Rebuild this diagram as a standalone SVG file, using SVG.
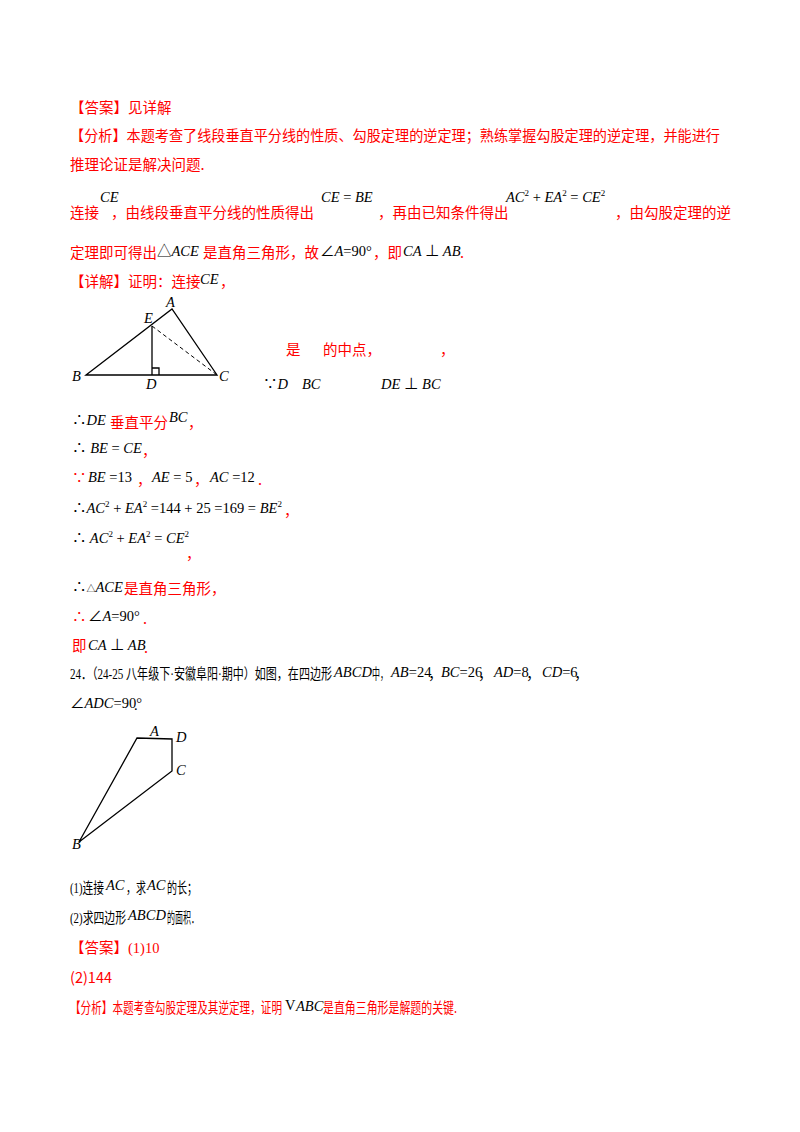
<svg xmlns="http://www.w3.org/2000/svg" width="800" height="1132" viewBox="0 0 800 1132">
<style>
text{font-family:"Liberation Serif","Noto Sans CJK SC",serif;font-size:14.5px;fill:#000}
.r{fill:#ff0000;font-family:"Noto Sans CJK SC","Liberation Serif",sans-serif}
.m{font-family:"Liberation Serif","Noto Sans CJK SC",serif;font-style:italic}
.n{font-style:normal}
.fig{stroke:#000;stroke-width:1.3;fill:none}
</style>
<rect width="800" height="1132" fill="#fff"/>
<text x="70" y="113" class="r">【答案】见详解</text>
<text x="70" y="141" class="r" textLength="650" lengthAdjust="spacingAndGlyphs">【分析】本题考查了线段垂直平分线的性质、勾股定理的逆定理；熟练掌握勾股定理的逆定理，并能进行</text>
<text x="70" y="170" class="r">推理论证是解决问题.</text>
<text x="70" y="218" class="r">连接</text>
<text x="100" y="202" class="m">CE</text>
<text x="111" y="218" class="r">，由线段垂直平分线的性质得出</text>
<text x="321" y="202" class="m">CE <tspan class="n">=</tspan> BE</text>
<text x="378" y="218" class="r">，再由已知条件得出</text>
<text x="506" y="202" class="m">AC<tspan class="n" font-size="9" dy="-6">2</tspan><tspan class="n" dy="6"> + </tspan>EA<tspan class="n" font-size="9" dy="-6">2</tspan><tspan class="n" dy="6"> = </tspan>CE<tspan class="n" font-size="9" dy="-6">2</tspan></text>
<text x="615" y="218" class="r">，由勾股定理的逆</text>
<text x="70" y="258" class="r">定理即可得出</text>
<text x="157" y="256" class="m"><tspan class="n">△</tspan>ACE</text>
<text x="203" y="258" class="r">是直角三角形，故</text>
<text x="320" y="256" class="m"><tspan class="n">∠</tspan>A<tspan class="n">=90°</tspan></text>
<text x="373" y="258" class="r">，即</text>
<text x="403" y="256" class="m">CA <tspan class="n">⊥</tspan> AB</text>
<text x="460" y="258" class="r">.</text>
<text x="70" y="287" class="r">【详解】证明：连接</text>
<text x="200" y="284" class="m">CE</text>
<text x="220" y="287" class="r">，</text>

<g id="triangle">
<path class="fig" d="M86,375 L172,309 L217,375 Z M152,326 L152,375 M152,368 L159,368 L159,375"/>
<path d="M152,326 L217,375" stroke="#000" stroke-width="1" stroke-dasharray="4,3" fill="none"/>
<text x="166" y="307" class="m">A</text>
<text x="144" y="323" class="m">E</text>
<text x="72" y="381" class="m">B</text>
<text x="146" y="389" class="m">D</text>
<text x="219" y="381" class="m">C</text>
</g>
<text x="286" y="355" class="r">是</text>
<text x="323" y="355" class="r">的中点，</text>
<text x="440" y="355" class="r">，</text>
<text x="263" y="389" class="m"><tspan class="n">∵</tspan>D</text>
<text x="302" y="389" class="m">BC</text>
<text x="381" y="389" class="m">DE <tspan class="n">⊥</tspan> BC</text>

<text x="72" y="425" class="m"><tspan class="n">∴</tspan>DE</text>
<text x="110" y="428" class="r">垂直平分</text>
<text x="169" y="422" class="m">BC</text>
<text x="188" y="428" class="r">，</text>
<text x="72" y="453" class="m"><tspan class="n">∴</tspan> BE <tspan class="n">=</tspan> CE</text>
<text x="142" y="456" class="r">，</text>
<text x="72" y="483" class="r">∵</text>
<text x="88" y="482" class="m">BE <tspan class="n">=13</tspan></text>
<text x="137" y="485" class="r">，</text>
<text x="152" y="482" class="m">AE <tspan class="n">= 5</tspan></text>
<text x="194" y="485" class="r">，</text>
<text x="210" y="482" class="m">AC <tspan class="n">=12</tspan></text>
<text x="258" y="485" class="r">.</text>
<text x="72" y="513" class="m"><tspan class="n">∴</tspan>AC<tspan class="n" font-size="9" dy="-6">2</tspan><tspan class="n" dy="6"> + </tspan>EA<tspan class="n" font-size="9" dy="-6">2</tspan><tspan class="n" dy="6"> =144 + 25 =169 = </tspan>BE<tspan class="n" font-size="9" dy="-6">2</tspan></text>
<text x="284" y="516" class="r">，</text>
<text x="72" y="543" class="m"><tspan class="n">∴</tspan> AC<tspan class="n" font-size="9" dy="-6">2</tspan><tspan class="n" dy="6"> + </tspan>EA<tspan class="n" font-size="9" dy="-6">2</tspan><tspan class="n" dy="6"> = </tspan>CE<tspan class="n" font-size="9" dy="-6">2</tspan></text>
<text x="186" y="559" class="r">，</text>
<text x="72" y="592" class="m"><tspan class="n">∴</tspan><tspan class="n" font-size="9">△</tspan>ACE</text>
<text x="124" y="594" class="r">是直角三角形，</text>
<text x="72" y="622" class="r">∴</text>
<text x="88" y="621" class="m"><tspan class="n">∠</tspan>A<tspan class="n">=90°</tspan></text>
<text x="143" y="624" class="r">.</text>
<text x="72" y="651" class="r">即</text>
<text x="88" y="650" class="m">CA <tspan class="n">⊥</tspan> AB</text>
<text x="144" y="653" class="r">.</text>

<text x="70" y="679" textLength="262" lengthAdjust="spacingAndGlyphs">24．（24-25 八年级下·安徽阜阳·期中）如图，在四边形</text>
<text x="334" y="677" class="m">ABCD</text>
<text x="372" y="679" textLength="16" lengthAdjust="spacingAndGlyphs">中，</text>
<text x="391" y="677" class="m">AB<tspan class="n">=24</tspan></text>
<text x="428" y="679">，</text>
<text x="441" y="677" class="m">BC<tspan class="n">=26</tspan></text>
<text x="478" y="679">，</text>
<text x="494" y="677" class="m">AD<tspan class="n">=8</tspan></text>
<text x="526" y="679">，</text>
<text x="542" y="677" class="m">CD<tspan class="n">=6</tspan></text>
<text x="574" y="679">，</text>
<text x="70" y="708" class="m"><tspan class="n">∠</tspan>ADC<tspan class="n">=90°</tspan></text>
<text x="134" y="710">.</text>

<g id="quad">
<path class="fig" d="M137,738 L172,739 L172,771 L79,842 Z"/>
<text x="150" y="736" class="m">A</text>
<text x="176" y="742" class="m">D</text>
<text x="176" y="775" class="m">C</text>
<text x="72" y="849" class="m">B</text>
</g>

<text x="70" y="893" textLength="34" lengthAdjust="spacingAndGlyphs">(1)连接</text>
<text x="106" y="890" class="m">AC</text>
<text x="126" y="893" textLength="20" lengthAdjust="spacingAndGlyphs">，求</text>
<text x="147" y="890" class="m">AC</text>
<text x="167" y="893" textLength="30" lengthAdjust="spacingAndGlyphs">的长；</text>
<text x="70" y="923" textLength="56" lengthAdjust="spacingAndGlyphs">(2)求四边形</text>
<text x="128" y="920" class="m">ABCD</text>
<text x="167" y="923" textLength="32" lengthAdjust="spacingAndGlyphs">的面积．</text>
<text x="70" y="953" class="r">【答案】<tspan font-family="Liberation Serif">(1)10</tspan></text>
<text x="70" y="983" class="r" font-family="Liberation Serif">(2)144</text>
<text x="70" y="1013" class="r" textLength="212" lengthAdjust="spacingAndGlyphs">【分析】本题考查勾股定理及其逆定理，证明</text>
<text x="285" y="1010">V</text>
<text x="296" y="1011" class="m">ABC</text>
<text x="323" y="1013" class="r" textLength="134" lengthAdjust="spacingAndGlyphs">是直角三角形是解题的关键.</text>
</svg>
